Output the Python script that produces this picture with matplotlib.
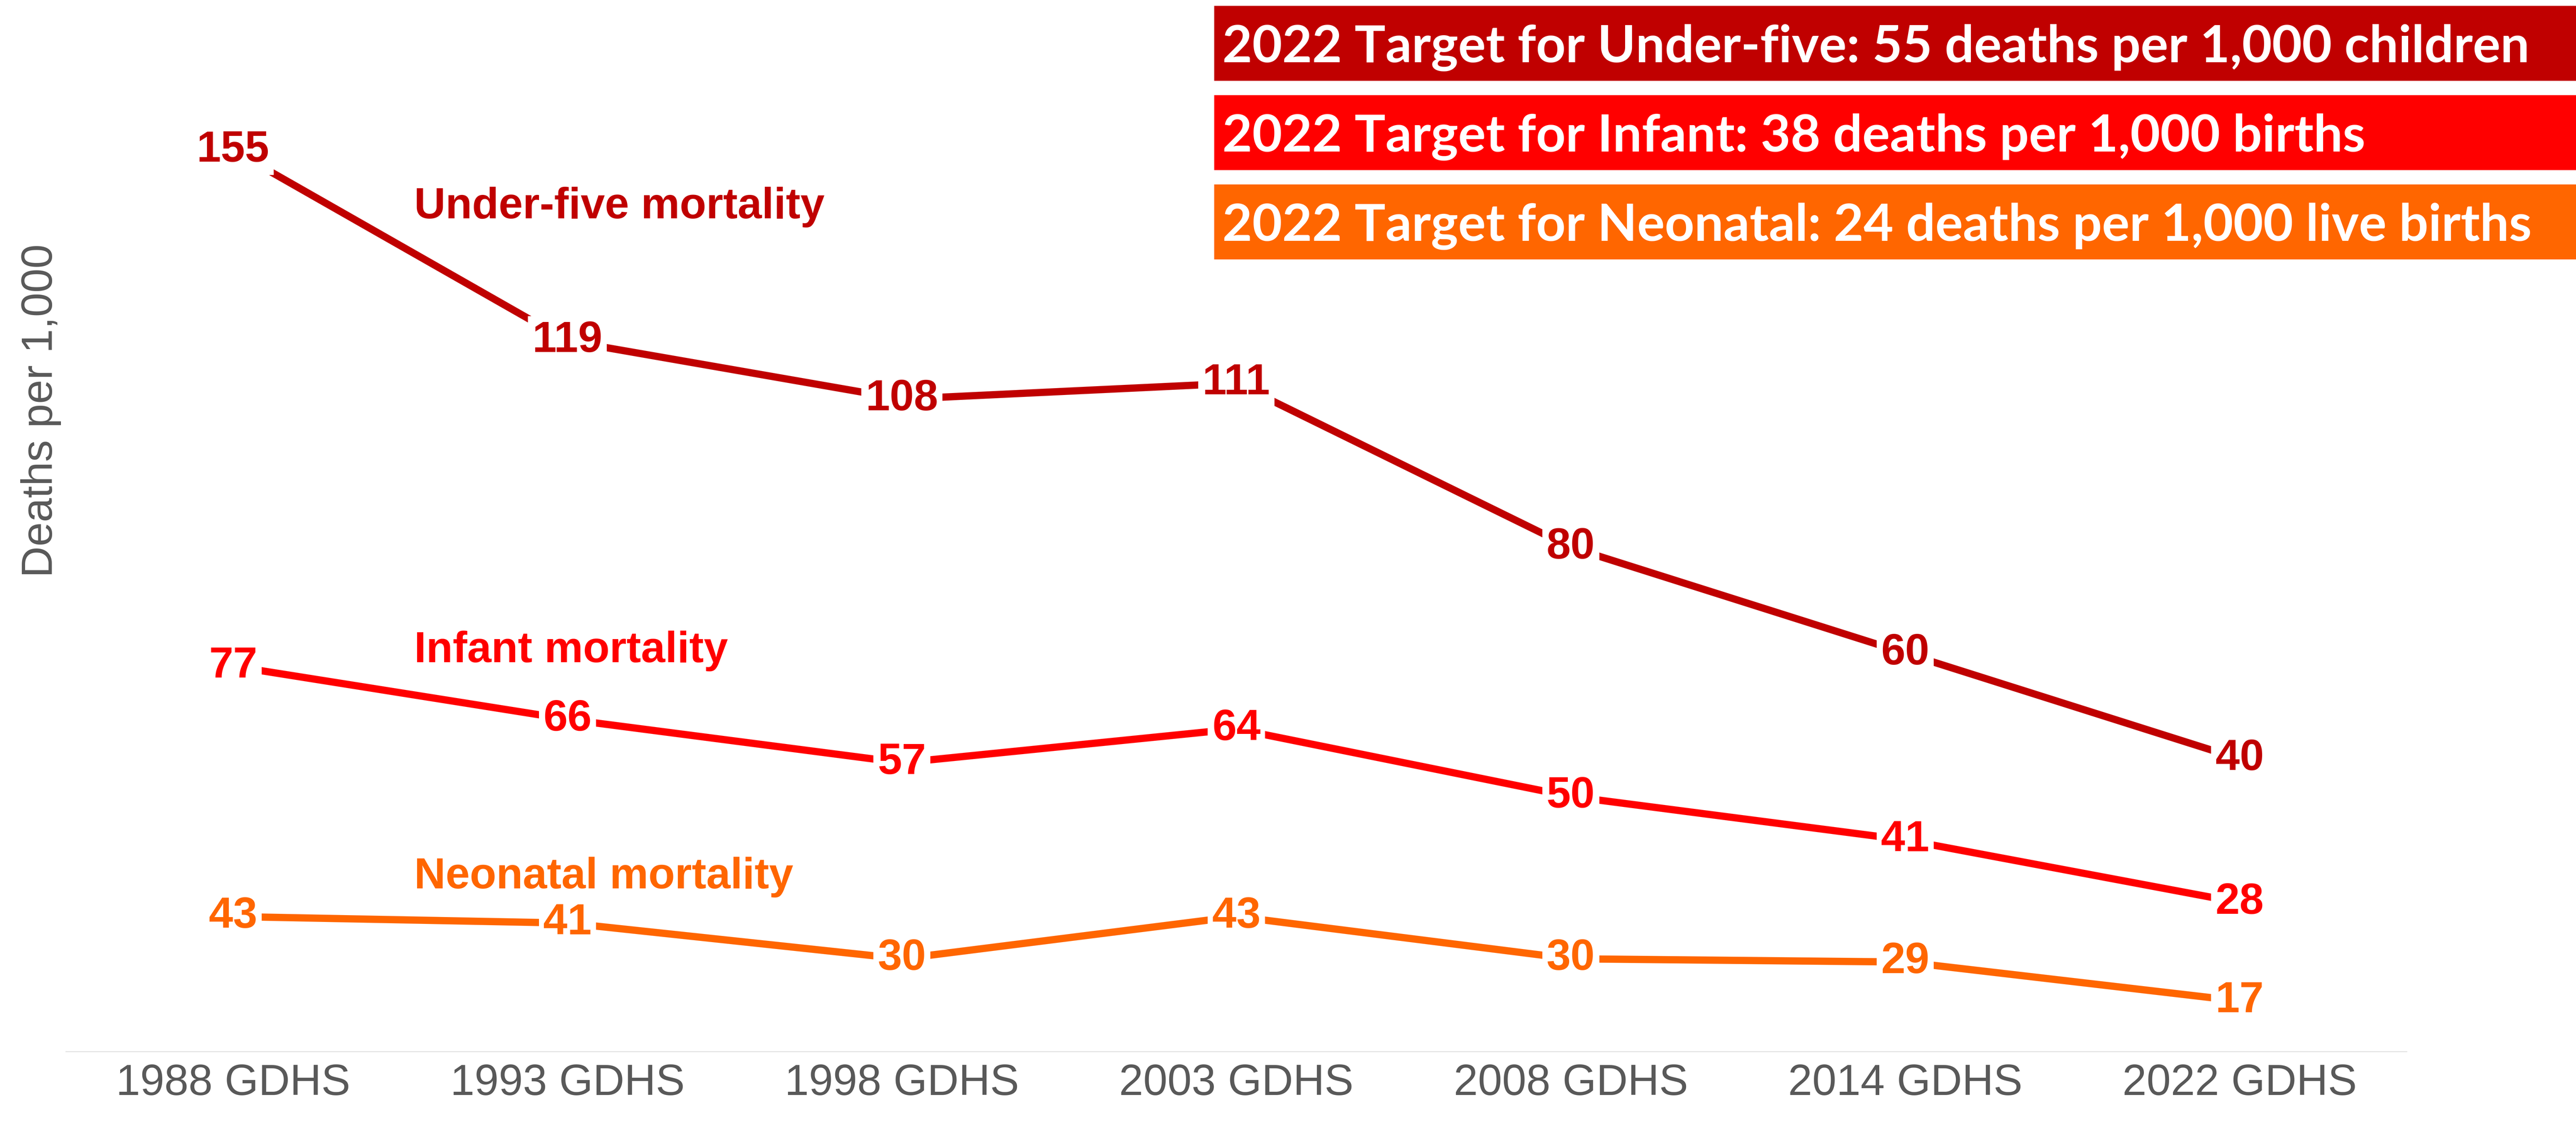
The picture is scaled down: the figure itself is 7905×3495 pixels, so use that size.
import matplotlib
matplotlib.use('Agg')
import matplotlib.pyplot as plt
from matplotlib import font_manager
from matplotlib.patches import Rectangle
from matplotlib.transforms import blended_transform_factory

# data
surveys = ['1988 GDHS', '1993 GDHS', '1998 GDHS', '2003 GDHS', '2008 GDHS', '2014 GDHS', '2022 GDHS']
under_five = [155, 119, 108, 111, 80, 60, 40]
infant = [77, 66, 57, 64, 50, 41, 28]
neonatal = [43, 41, 30, 43, 30, 29, 17]

series_names = ['Under-five mortality', 'Infant mortality', 'Neonatal mortality']
targets = ['2022 Target for Under-five: 55 deaths per 1,000 children',
           '2022 Target for Infant: 38 deaths per 1,000 births',
           '2022 Target for Neonatal: 24 deaths per 1,000 live births']

colors = ['#C00000', '#FF0000', '#FF6600']
# each series sits on its own value scale, as in the original
ylims = [(-15.3, 183.4), (-2.9, 215.1), (1.4, 325.2)]
name_y = [0.803, 0.381, 0.166]

# original uses Arial Narrow; fall back to Arial-metric Liberation Sans, shrunk to similar widths
installed = {f.name for f in font_manager.fontManager.ttflist}
if 'Liberation Sans Narrow' in installed:
    NARROW = ['Liberation Sans Narrow', 'DejaVu Sans']
    FS = 112
else:
    NARROW = ['Liberation Sans', 'DejaVu Sans']
    FS = 96
GREY = '#595959'

W, H = 7905, 3495
fig = plt.figure(figsize=(W / 100, H / 100), dpi=100)
rect = [202 / W, 1 - 3227 / H, (7386 - 202) / W, 3227 / H]
ax = fig.add_axes(rect)

axes = [ax, ax.twinx(), ax.twinx()]
for a, vals, col, lim, name, ny in zip(axes, [under_five, infant, neonatal], colors,
                                       ylims, series_names, name_y):
    x = range(len(surveys))
    a.plot(x, vals, color=col, lw=16, solid_capstyle='butt', zorder=2)
    for xi, v in zip(x, vals):
        a.text(xi, v, str(v), ha='center', va='center', fontsize=FS,
               fontweight='bold', color=col, family=NARROW, zorder=3,
               bbox=dict(boxstyle='square,pad=0.1', fc='white', ec='none'))
    a.set_ylim(*lim)
    a.set_xlim(-0.5, 6.5)
    tr = blended_transform_factory(a.transData, a.transAxes)
    a.text(0.542, ny, name, transform=tr, ha='left', va='center', fontsize=FS,
           fontweight='bold', color=col, family=NARROW)
    if a is not ax:
        a.axis('off')

ax.set_xticks(range(len(surveys)), surveys)
ax.set_yticks([])
ax.tick_params(axis='x', length=0, pad=26, labelsize=FS, labelcolor=GREY)
for lab in ax.get_xticklabels():
    lab.set_family(NARROW)
for s in ['left', 'right', 'top']:
    ax.spines[s].set_visible(False)
ax.spines['bottom'].set_color('#D9D9D9')
ax.spines['bottom'].set_linewidth(1.5)

ax.set_ylabel('Deaths per 1,000', fontsize=FS, color=GREY, family=NARROW, va='center')
ax.yaxis.set_label_coords(-0.0106, 0.6095)

# target boxes, top right
box_top = [18, 292, 566]
for top, col, txt in zip(box_top, colors, targets):
    fig.add_artist(Rectangle((3726 / W, 1 - (top + 230) / H), 1 - 3726 / W, 230 / H,
                             transform=fig.transFigure, facecolor=col, edgecolor='none'))
    fig.text(3751 / W, 1 - (top + 173) / H, txt, ha='left', va='baseline',
             fontsize=114, fontweight='bold', color='white', family=['Lato', 'DejaVu Sans'])

fig.savefig('out.png', dpi=100)
